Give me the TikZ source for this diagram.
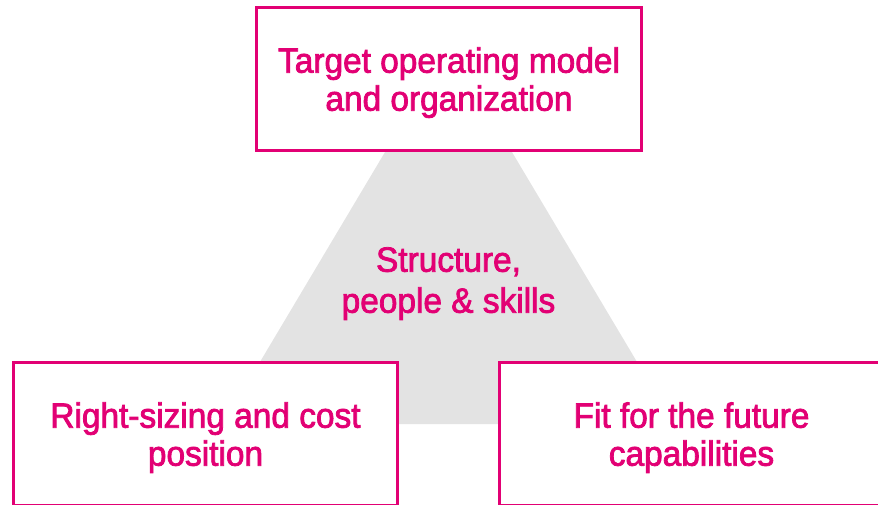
\documentclass[tikz,border=0pt]{standalone}
\usepackage{fontspec}
\setmainfont{Liberation Sans}[FakeBold=2.2,FakeStretch=0.955]
\definecolor{tmag}{HTML}{E20074}
\definecolor{tgray}{HTML}{E3E3E3}
\tikzset{
  pillar/.style={draw=tmag, line width=2.7pt, fill=white, minimum width=384.5pt, minimum height=143.5pt, inner sep=0pt, outer sep=0pt},
  lbl/.style={text=tmag, align=center, font=\fontsize{35pt}{38pt}\selectfont, text depth=0pt, inner sep=0pt},
}
\begin{document}
\begin{tikzpicture}[x=1pt,y=-1pt]
\useasboundingbox (0,0) rectangle (878,505);
\begin{scope}
\clip (0,0) rectangle (878,505);
\coordinate (apex) at (448.5,45.5);
\coordinate (bl) at (223,424);
\coordinate (br) at (674,424);
\fill[tgray] (apex) -- (bl) -- (br) -- cycle;
\node[pillar] (top) at (449,79) {};
\node[pillar] (left) at (205.5,434) {};
\node[pillar] (right) at (691.5,434) {};
\node[lbl] (toptext) at (top.center) {Target operating model\\and organization};
\node[lbl] (lefttext) at (left.center) {Right-sizing and cost\\position};
\node[lbl] (righttext) at (right.center) {Fit for the future\\capabilities};
\node[lbl, font=\fontsize{35pt}{41pt}\selectfont] (core) at (448.5,280) {Structure,\\people \& skills};
\end{scope}
\end{tikzpicture}
\end{document}
